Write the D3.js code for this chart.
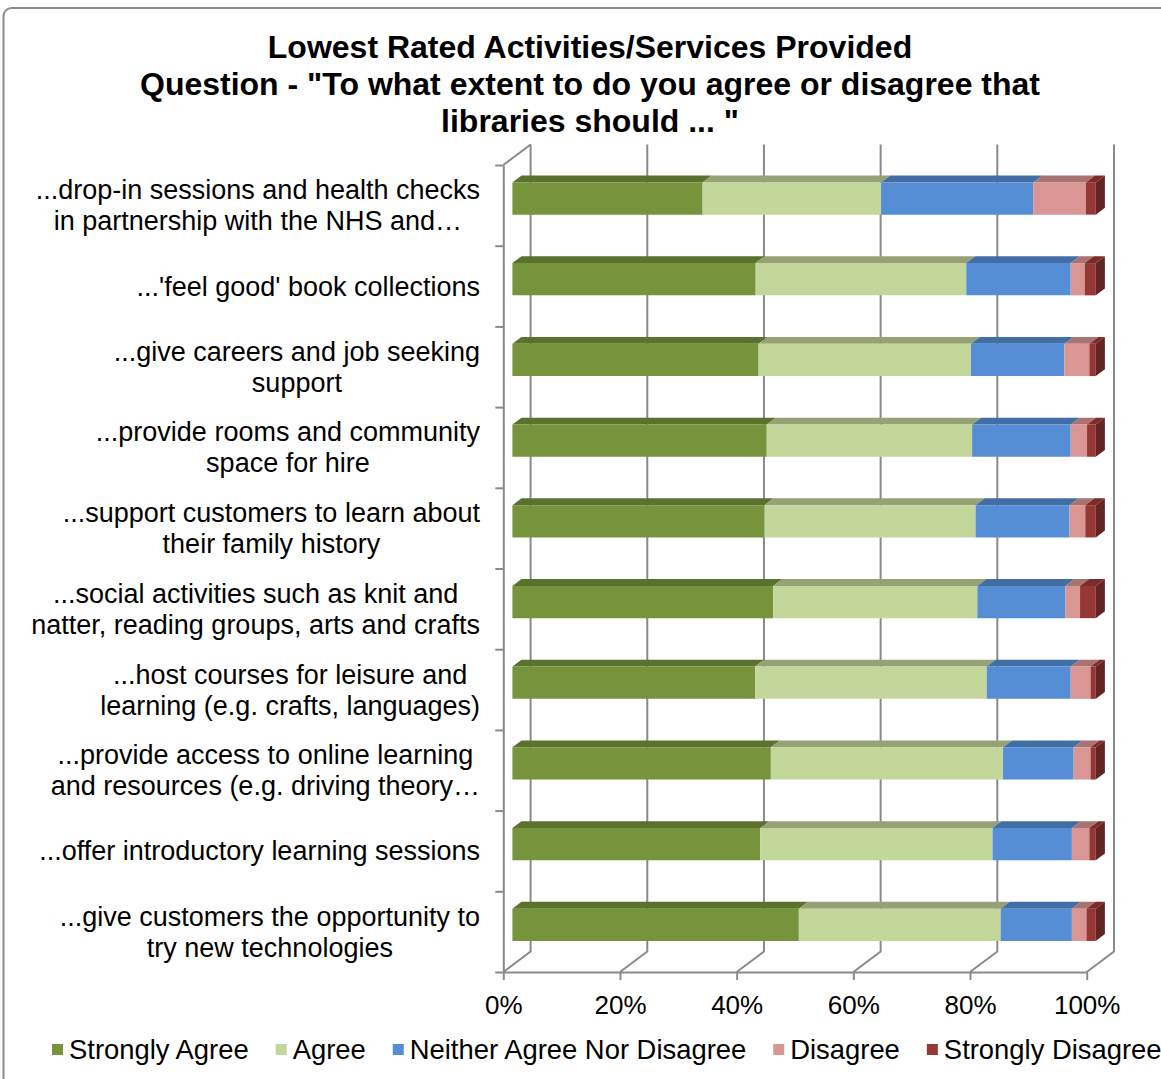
<!DOCTYPE html>
<html>
<head>
<meta charset="utf-8">
<script src="https://cdn.jsdelivr.net/npm/d3@7"></script>
<style>
  body { margin: 0; background: #fff; }
  svg text { font-family: "Liberation Sans", Arial, sans-serif; fill: #000; }
</style>
</head>
<body>
<svg id="chart"></svg>
<script>
'use strict';

// chart title, one entry per line
var titleLines = [
	'Lowest Rated Activities/Services Provided',
	'Question - "To what extent to do you agree or disagree that',
	'libraries should ... "'
];

// category labels, split into lines as in the original
var categories = [
	['...drop-in sessions and health checks', 'in partnership with the NHS and\u2026'],
	['...\'feel good\' book collections'],
	['...give careers and job seeking', 'support'],
	['...provide rooms and community', 'space for hire'],
	['...support customers to learn about', 'their family history'],
	['...social activities such as knit and', 'natter, reading groups, arts and crafts'],
	['...host courses for leisure and', 'learning (e.g. crafts, languages)'],
	['...provide access to online learning', 'and resources (e.g. driving theory\u2026'],
	['...offer introductory learning sessions'],
	['...give customers the opportunity to', 'try new technologies']
];

var seriesNames = ['Strongly Agree', 'Agree', 'Neither Agree Nor Disagree', 'Disagree', 'Strongly Disagree'];

// percentages
var stronglyAgree = [32.6, 41.7, 42.2, 43.6, 43.2, 44.7, 41.6, 44.3, 42.5, 49.1];
var agree = [30.6, 36.1, 36.4, 35.2, 36.2, 35.0, 39.7, 39.8, 39.8, 34.6];
var neither = [26.1, 17.9, 16.0, 16.9, 16.1, 15.1, 14.4, 12.1, 13.6, 12.2];
var disagree = [9.0, 2.4, 4.3, 2.8, 2.7, 2.5, 3.4, 2.9, 3.0, 2.5];
var stronglyDisagree = [1.7, 1.9, 1.1, 1.5, 1.8, 2.7, 0.9, 0.9, 1.1, 1.6];

var tickValues = [0, 20, 40, 60, 80, 100];

// face colours per series: front, top, side
var colors = [
	{front: '#77933c', top: '#5b712e', side: '#4d6027'},
	{front: '#c4d79b', top: '#96a276', side: '#8a9570'},
	{front: '#558ed5', top: '#416ea4', side: '#355c8a'},
	{front: '#d99694', top: '#a97371', side: '#8f5f5d'},
	{front: '#953735', top: '#7d2b29', side: '#632523'}
];

var width = 1161, height = 1079;
var svg = d3.select('#chart').attr('width', width).attr('height', height);

// outer chart border
svg.append('rect')
	.attr('x', 3.5).attr('y', 8)
	.attr('width', 1200).attr('height', 1100)
	.attr('rx', 8)
	.attr('fill', '#fff')
	.attr('stroke', '#8c8c8c')
	.attr('stroke-width', 2);

// plot geometry (front plane) and depth vector
var plot = {left: 503.3, right: 1086.7, top: 165, bottom: 972};
var depth = {dx: 27.3, dy: -20.5};
var barZ0 = 1 / 3, barZ1 = 2 / 3;
var gridColor = '#8a8a8a';

// build stacked table
var table = categories.map(function(c, i) {
	var row = {index: i};
	var vals = [stronglyAgree[i], agree[i], neither[i], disagree[i], stronglyDisagree[i]];
	var total = d3.sum(vals);
	seriesNames.forEach(function(s, j) { row[s] = vals[j] / total * 100; });
	return row;
});
var stacked = d3.stack().keys(seriesNames)(table);

var x = d3.scaleLinear().domain([0, 100]).range([plot.left, plot.right]);
var y = d3.scaleBand()
	.domain(d3.range(categories.length))
	.range([plot.top, plot.bottom])
	.paddingInner(0.6)
	.paddingOuter(0.3);
var yEdge = d3.scaleLinear().domain([0, categories.length]).range([plot.top, plot.bottom]);

var project = function(v, yy, z) {
	return [x(v) + z * depth.dx, yy + z * depth.dy];
};
var line = d3.line();

// back wall gridlines and floor diagonals
var grid = svg.append('g').attr('class', 'grid')
	.attr('stroke', gridColor).attr('stroke-width', 2).attr('fill', 'none');
tickValues.forEach(function(t) {
	grid.append('path').attr('d', line([
		project(t, plot.top, 1),
		project(t, plot.bottom, 1),
		project(t, plot.bottom, 0)
	]));
});
// left wall top edge
grid.append('path').attr('d', line([project(0, plot.top, 0), project(0, plot.top, 1)]));

// bars
var bars = svg.append('g').attr('class', 'bars');
stacked.forEach(function(layer, j) {
	var col = colors[j];
	var last = j === stacked.length - 1;
	layer.forEach(function(d, i) {
		var y0 = y(i), y1 = y(i) + y.bandwidth();
		var g = bars.append('g');
		g.append('path')
			.attr('fill', col.top)
			.attr('d', line([
				project(d[0], y0, barZ0), project(d[1], y0, barZ0),
				project(d[1], y0, barZ1), project(d[0], y0, barZ1)
			]) + 'Z');
		g.append('path')
			.attr('fill', col.front)
			.attr('d', line([
				project(d[0], y0, barZ0), project(d[1], y0, barZ0),
				project(d[1], y1, barZ0), project(d[0], y1, barZ0)
			]) + 'Z');
		if (last) {
			g.append('path')
				.attr('fill', col.side)
				.attr('d', line([
					project(d[1], y0, barZ0), project(d[1], y0, barZ1),
					project(d[1], y1, barZ1), project(d[1], y1, barZ0)
				]) + 'Z');
		}
	});
});

// category axis (front left edge) with ticks on band boundaries
var leftAxis = svg.append('g')
	.attr('transform', 'translate(' + plot.left + ',0)')
	.call(d3.axisLeft(yEdge)
		.tickValues(d3.range(categories.length + 1))
		.tickFormat('')
		.tickSize(8)
		.tickSizeOuter(0));
leftAxis.selectAll('path, line').attr('stroke', gridColor).attr('stroke-width', 2);

// value axis (front floor edge)
var bottomAxis = svg.append('g')
	.attr('transform', 'translate(0,' + plot.bottom + ')')
	.call(d3.axisBottom(x)
		.tickValues(tickValues)
		.tickFormat(function(d) { return d + '%'; })
		.tickSize(8)
		.tickSizeOuter(0));
bottomAxis.selectAll('path, line').attr('stroke', gridColor).attr('stroke-width', 2);
bottomAxis.selectAll('text')
	.attr('font-size', 26)
	.attr('fill', '#000')
	.attr('dy', null)
	.attr('y', 33)
	.attr('dominant-baseline', 'central')
	.style('font-family', '"Liberation Sans", Arial, sans-serif');

// category labels: centred blocks, right-aligned to the axis
var labelRight = 480;
var lineGap = 31;
var labels = svg.append('g').attr('class', 'labels');
categories.forEach(function(lines, i) {
	var cy = y(i) + y.bandwidth() / 2 + 0.5;
	var g = labels.append('g');
	var texts = lines.map(function(s, k) {
		return g.append('text')
			.attr('font-size', 27)
			.attr('text-anchor', 'middle')
			.attr('dominant-baseline', 'central')
			.attr('y', cy + (k - (lines.length - 1) / 2) * lineGap)
			.text(s);
	});
	var maxW = d3.max(texts, function(t) { return t.node().getComputedTextLength(); });
	texts.forEach(function(t) { t.attr('x', labelRight - maxW / 2); });
});

// title
svg.append('g').selectAll('text')
	.data(titleLines)
	.join('text')
	.attr('x', 590)
	.attr('y', function(d, i) { return 58 + i * 37; })
	.attr('text-anchor', 'middle')
	.attr('font-size', 32)
	.attr('font-weight', 'bold')
	.text(function(d) { return d; });

// legend
var legend = svg.append('g').attr('class', 'legend');
var lx = 52, ly = 1049;
seriesNames.forEach(function(s, j) {
	legend.append('rect')
		.attr('x', lx).attr('y', ly - 5)
		.attr('width', 11).attr('height', 11)
		.attr('fill', colors[j].front);
	var t = legend.append('text')
		.attr('x', lx + 17).attr('y', ly)
		.attr('font-size', 27.4)
		.attr('dominant-baseline', 'central')
		.text(s);
	lx += 17 + t.node().getComputedTextLength() + 27;
});
</script>
</body>
</html>
